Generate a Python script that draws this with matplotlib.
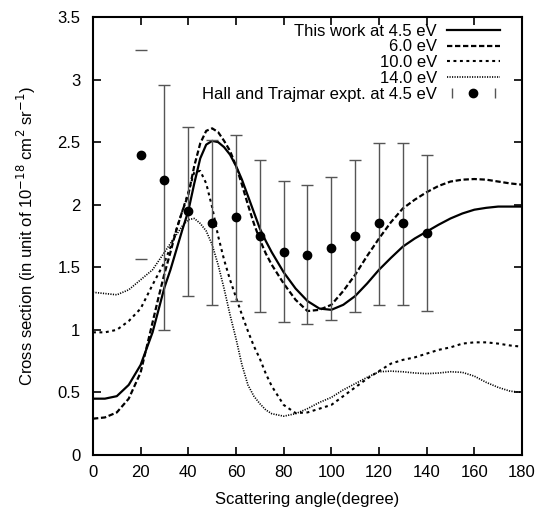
import matplotlib
matplotlib.use("Agg")
import matplotlib.pyplot as plt
from matplotlib.lines import Line2D
from matplotlib.legend_handler import HandlerLine2D, HandlerTuple
from matplotlib.ticker import FuncFormatter, MultipleLocator

plt.rcParams['font.family'] = ['Liberation Sans', 'DejaVu Sans']

# ---- data -------------------------------------------------------------
angles = [0, 5, 10, 15, 20, 25, 27.5, 30, 32.5, 35, 37.5, 40, 42.5, 45, 47.5, 50,
          52.5, 55, 57.5, 60, 62.5, 65, 67.5, 70, 72.5, 75, 80, 85, 90, 95, 100, 105,
          110, 115, 120, 125, 130, 135, 140, 145, 150, 155, 160, 165, 170, 175, 180]

cs_45 = [0.45, 0.45, 0.47, 0.56, 0.72, 0.98, 1.16, 1.34, 1.48, 1.64, 1.80, 1.95, 2.17,
         2.37, 2.48, 2.51, 2.50, 2.46, 2.40, 2.31, 2.20, 2.07, 1.94, 1.81, 1.71, 1.62,
         1.46, 1.33, 1.23, 1.17, 1.16, 1.20, 1.27, 1.37, 1.48, 1.575, 1.665, 1.73,
         1.785, 1.84, 1.89, 1.93, 1.96, 1.975, 1.985, 1.985, 1.985]

cs_60 = [0.29, 0.30, 0.34, 0.45, 0.66, 1.06, 1.26, 1.45, 1.62, 1.80, 1.95, 2.08, 2.31,
         2.49, 2.59, 2.61, 2.58, 2.51, 2.43, 2.31, 2.16, 2.00, 1.85, 1.72, 1.61, 1.52,
         1.37, 1.24, 1.15, 1.16, 1.20, 1.31, 1.44, 1.59, 1.73, 1.86, 1.97, 2.04, 2.10,
         2.15, 2.185, 2.20, 2.205, 2.20, 2.185, 2.17, 2.16]

cs_100 = [0.98, 0.98, 1.00, 1.07, 1.17, 1.36, 1.45, 1.54, 1.66, 1.80, 1.95, 2.10, 2.26,
          2.27, 2.17, 1.98, 1.75, 1.56, 1.40, 1.26, 1.12, 0.99, 0.87, 0.77, 0.65, 0.55,
          0.40, 0.335, 0.34, 0.37, 0.40, 0.47, 0.54, 0.61, 0.67, 0.73, 0.76, 0.78, 0.81,
          0.84, 0.86, 0.89, 0.90, 0.90, 0.89, 0.875, 0.865]

cs_140 = [1.30, 1.29, 1.28, 1.32, 1.40, 1.48, 1.55, 1.62, 1.69, 1.76, 1.83, 1.88, 1.89,
          1.85, 1.79, 1.68, 1.52, 1.33, 1.12, 0.93, 0.72, 0.56, 0.47, 0.41, 0.36, 0.33,
          0.31, 0.33, 0.37, 0.42, 0.46, 0.52, 0.57, 0.62, 0.665, 0.67, 0.665, 0.655,
          0.65, 0.655, 0.665, 0.66, 0.63, 0.58, 0.54, 0.51, 0.50]

expt_angles = [20, 30, 40, 50, 60, 70, 80, 90, 100, 110, 120, 130, 140]
expt_values = [2.40, 2.20, 1.95, 1.85, 1.90, 1.75, 1.625, 1.60, 1.65, 1.75, 1.85, 1.85, 1.77]
expt_low = [1.57, 1.00, 1.27, 1.20, 1.23, 1.14, 1.06, 1.045, 1.08, 1.14, 1.20, 1.20, 1.15]
expt_high = [3.24, 2.96, 2.62, 2.52, 2.56, 2.36, 2.19, 2.16, 2.22, 2.36, 2.49, 2.49, 2.40]

# ---- figure -----------------------------------------------------------
fig = plt.figure(figsize=(5.39, 5.13), dpi=100)
ax = fig.add_axes([0.1725, 0.1131, 0.796, 0.8538])

l45, = ax.plot(angles, cs_45, color='black', lw=1.6, label='This work at 4.5 eV')
l60, = ax.plot(angles, cs_60, color='black', lw=1.6, dashes=(2.4, 1.2), label='6.0 eV')
l100, = ax.plot(angles, cs_100, color='black', lw=1.5, dashes=(1.4, 1.7), label='10.0 eV')
l140, = ax.plot(angles, cs_140, color='black', lw=1.2, dashes=(0.7, 0.8), label='14.0 eV')

yerr = [[v - lo for v, lo in zip(expt_values, expt_low)],
        [hi - v for v, hi in zip(expt_values, expt_high)]]
eb = ax.errorbar(expt_angles, expt_values, yerr=yerr, fmt='o', color='black',
                 ms=6, ecolor='#555555', elinewidth=1.0, capsize=4, capthick=1.0)
# the vertical bar of the 20-degree point is not drawn in the reference
eb[2][0].set_linewidths([0] + [1.0] * (len(expt_angles) - 1))

ax.set_xlim(0, 180)
ax.set_ylim(0, 3.5)
ax.xaxis.set_major_locator(MultipleLocator(20))
ax.yaxis.set_major_locator(MultipleLocator(0.5))
ax.yaxis.set_major_formatter(FuncFormatter(lambda v, p: '%g' % v))
ax.xaxis.set_major_formatter(FuncFormatter(lambda v, p: '%g' % v))
ax.tick_params(direction='in', top=True, right=True, length=6, width=1.2,
               labelsize=12, colors='black')
ax.tick_params(axis='y', pad=9)
ax.tick_params(axis='x', pad=7)
for s in ax.spines.values():
    s.set_linewidth(1.5)

ax.set_xlabel('Scattering angle(degree)', fontsize=12, labelpad=9)
ax.set_ylabel('Cross section (in unit of 10$^{-18}$ cm$^2$ sr$^{-1}$)', fontsize=12,
              labelpad=14)

# legend handle for experiment: "|  o  |"
bars = Line2D([], [], ls='none', marker='|', ms=7, color='#555555', mew=1.0)
dot = Line2D([], [], ls='none', marker='o', ms=6, color='black')
handles = [l45, l60, l100, l140, (bars, dot)]
labels = ['This work at 4.5 eV', '6.0 eV', '10.0 eV', '14.0 eV',
          'Hall and Trajmar expt. at 4.5 eV']
ax.legend(handles, labels, loc='upper right', bbox_to_anchor=(0.949, 0.985),
          frameon=False, markerfirst=False, fontsize=12, handlelength=3.2,
          handletextpad=0.6, labelspacing=0.05, borderpad=0, borderaxespad=0,
          handler_map={bars: HandlerLine2D(numpoints=2),
                       dot: HandlerLine2D(numpoints=1),
                       tuple: HandlerTuple(ndivide=1, pad=0)})

fig.savefig('out.png', dpi=100)
